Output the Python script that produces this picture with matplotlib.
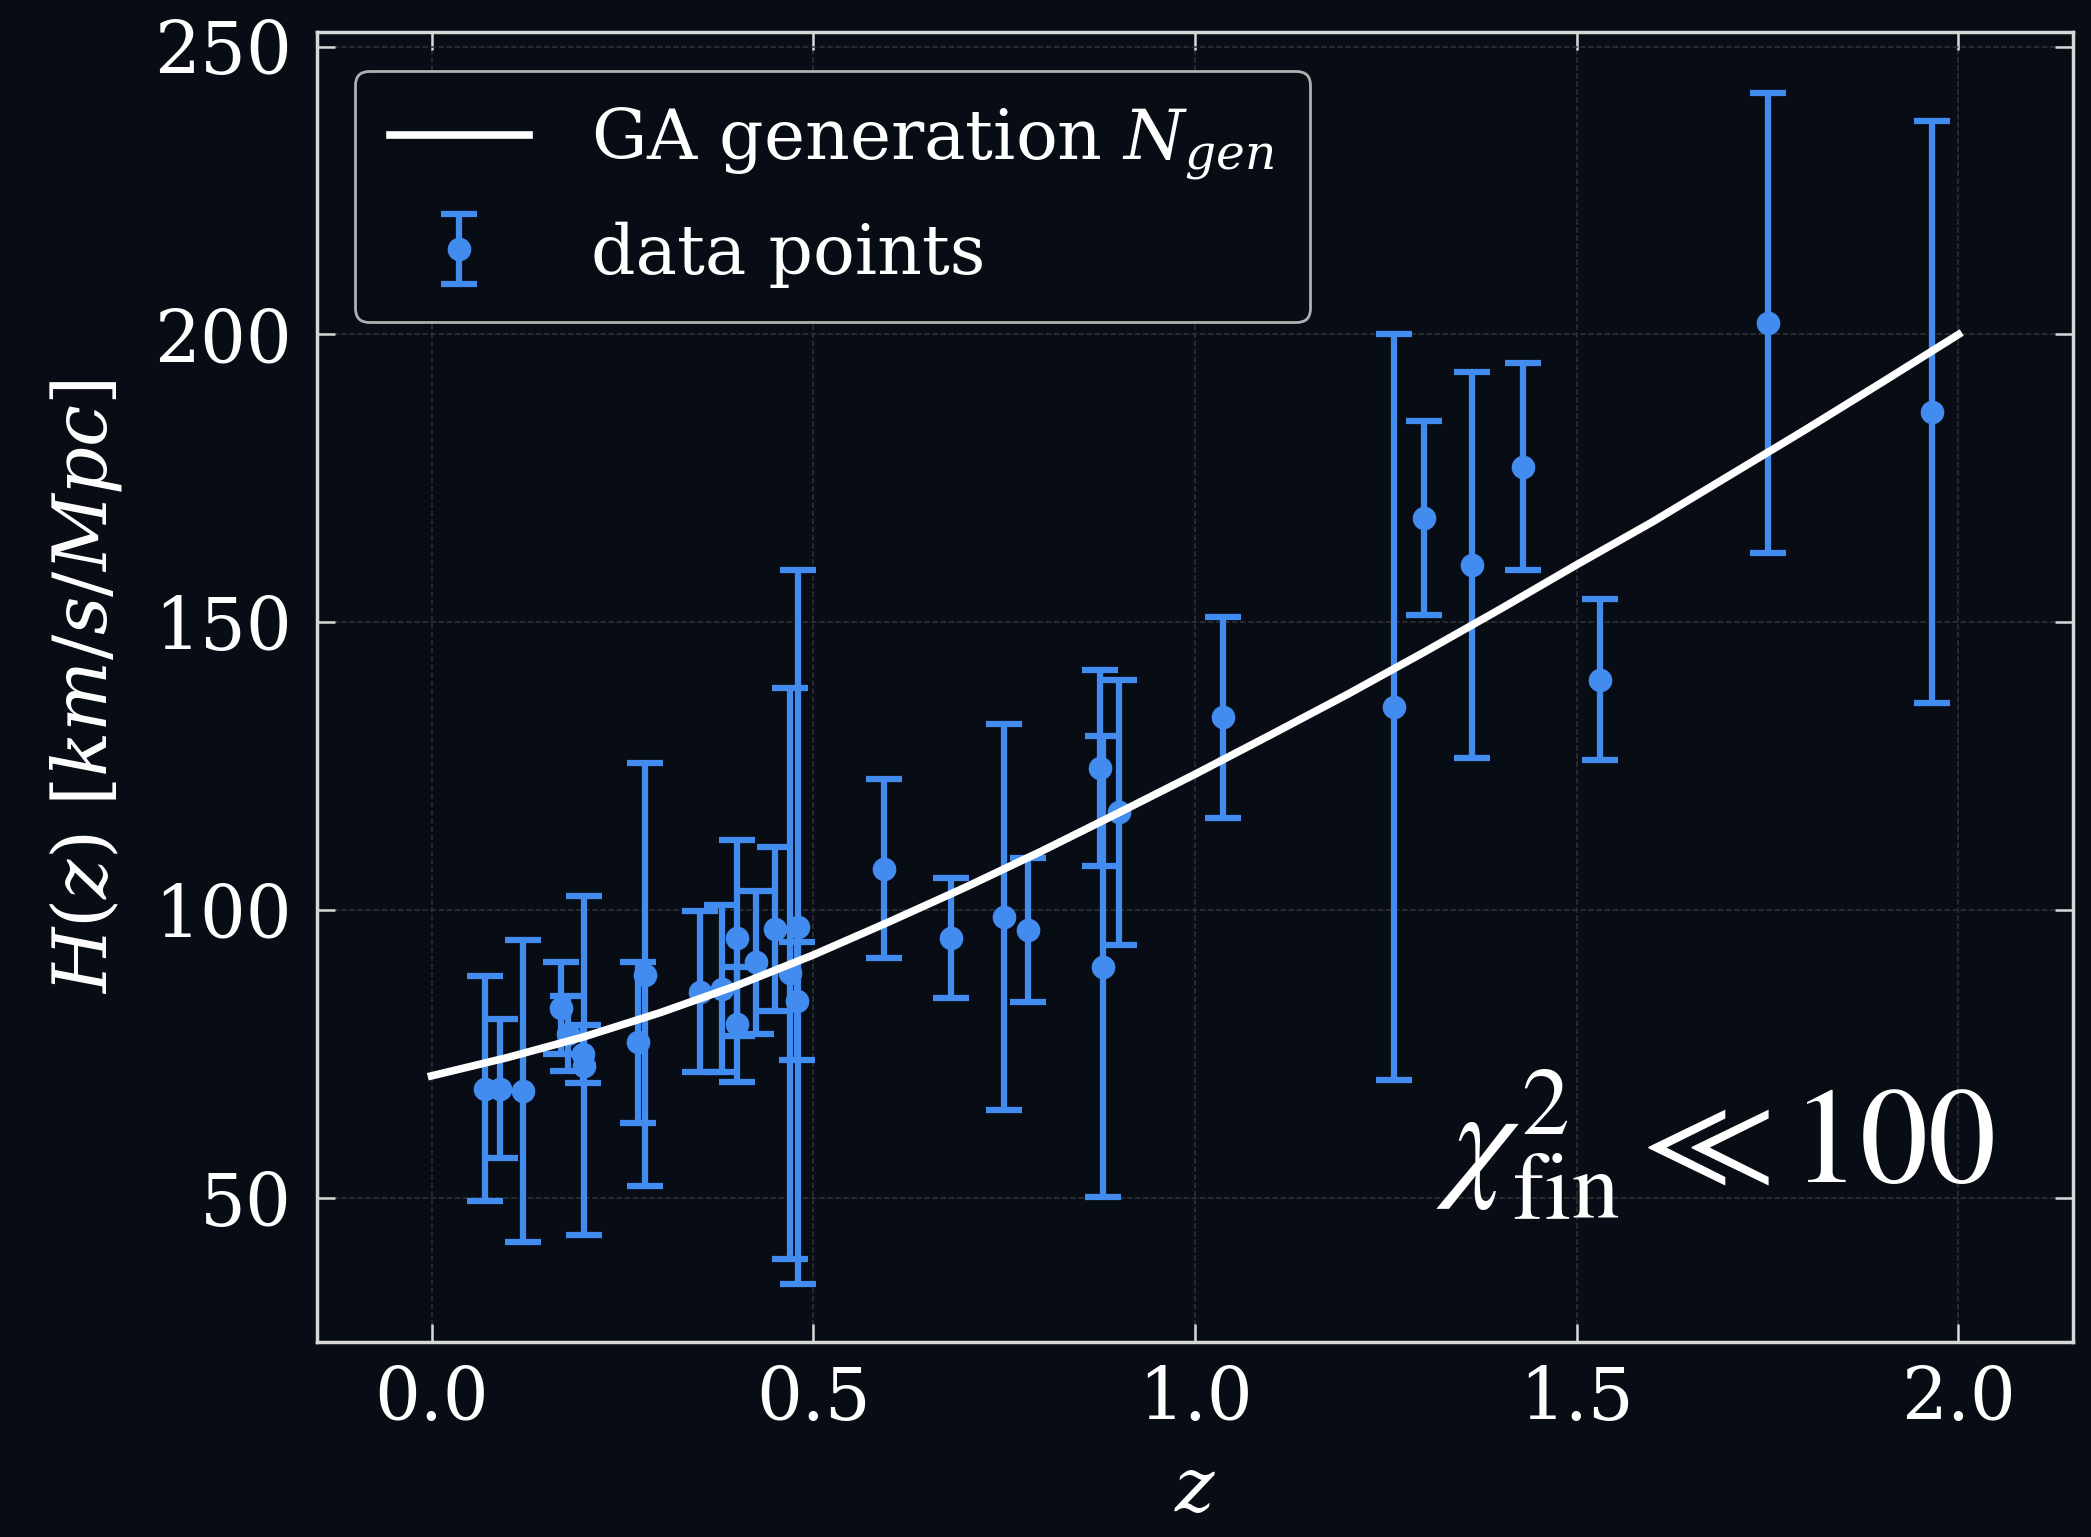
import numpy as np
import matplotlib
matplotlib.use('Agg')
import matplotlib.pyplot as plt

z_data = [0.07, 0.09, 0.12, 0.17, 0.179, 0.199, 0.20, 0.27, 0.28, 0.352,
          0.3802, 0.40, 0.4004, 0.4247, 0.4497, 0.47, 0.4783, 0.48, 0.593, 0.68,
          0.75, 0.781, 0.875, 0.88, 0.90, 1.037, 1.26, 1.30, 1.363, 1.43,
          1.53, 1.75, 1.965]
H_data = [69.0, 69.0, 68.6, 83.0, 78.5, 75.0, 73.0, 77.0, 88.8, 85.8,
          86.3, 95.2, 80.2, 90.9, 96.7, 89.0, 84.2, 97.0, 107.2, 95.2,
          98.8, 96.6, 124.7, 90.2, 117.0, 133.5, 135.2, 168.1, 160.0, 177.0,
          140.0, 202.0, 186.5]
H_err = [19.6, 12.0, 26.2, 8.0, 6.5, 5.0, 29.5, 14.0, 36.7, 14.0,
         14.5, 17.0, 10.0, 12.4, 14.3, 49.6, 10.2, 62.0, 15.5, 10.4,
         33.5, 12.5, 17.0, 40.0, 23.0, 17.5, 64.8, 16.9, 33.5, 18.0,
         14.0, 40.0, 50.5]

# GA reconstruction curve, sampled from the figure
z_curve = [0.0, 0.1, 0.2, 0.3, 0.4, 0.5, 0.6, 0.7, 0.8, 0.9, 1.0,
           1.1, 1.2, 1.3, 1.4, 1.5, 1.6, 1.7, 1.8, 1.9, 2.0]
H_curve = [71.2, 74.4, 78.0, 82.2, 86.9, 92.2, 98.0, 104.0, 110.3, 116.9, 123.6,
           130.5, 137.5, 144.8, 152.3, 160.0, 167.5, 175.5, 183.5, 191.7, 200.0]

x_ticks = [0.0, 0.5, 1.0, 1.5, 2.0]
y_ticks = [50, 100, 150, 200, 250]

BG = '#080c14'
BLUE = '#428cf0'
SPINE = '#d8d8d8'

plt.rcParams['font.family'] = 'DejaVu Serif'
plt.rcParams['mathtext.fontset'] = 'dejavuserif'

fig = plt.figure(figsize=(20.91, 15.37), dpi=100, facecolor=BG)
ax = fig.add_axes([0.1516, 0.127, 0.8398, 0.852])
ax.set_facecolor(BG)

line, = ax.plot(z_curve, H_curve, color='white', lw=5.5, zorder=4,
                label=r'GA generation $N_{gen}$')
eb = ax.errorbar(z_data, H_data, yerr=H_err, fmt='o', color=BLUE, ecolor=BLUE,
                 markersize=16, elinewidth=4.5, capsize=13, capthick=4.5,
                 zorder=3, label='data points')

ax.set_xlim(-0.15, 2.15)
ax.set_ylim(25, 252.5)
ax.set_xticks(x_ticks)
ax.set_yticks(y_ticks)
ax.set_xticklabels([f'{t:.1f}' for t in x_ticks])

ax.grid(True, ls='--', color='#303236', lw=1.1)
ax.set_axisbelow(True)

ax.tick_params(direction='in', top=True, right=True, length=13, width=1.8,
               color=SPINE, labelcolor='white', labelsize=52)
ax.tick_params(axis='x', pad=16)
ax.tick_params(axis='y', pad=18)
for spine in ax.spines.values():
    spine.set_color(SPINE)
    spine.set_linewidth(2.5)

ax.set_xlabel(r'$z$', fontsize=54, color='white', labelpad=14)
ax.set_ylabel(r'$H(z)\ [km/s/Mpc]$', fontsize=54, color='white', labelpad=22)

leg = ax.legend(handles=[line, eb], loc='upper left', fontsize=50,
                facecolor=BG, edgecolor='#b0b0b0', framealpha=1.0,
                handlelength=2.0, borderpad=0.5, labelspacing=0.55,
                handletextpad=0.9, bbox_to_anchor=(0.002, 0.997))
leg.get_frame().set_linewidth(2.0)
for txt in leg.get_texts():
    txt.set_color('white')

ax.text(0.955, 0.15, r'$\chi^2_{\mathrm{fin}} \ll 100$', transform=ax.transAxes,
        ha='right', va='center', fontsize=98, color='white',
        math_fontfamily='stix')

fig.savefig('out.png', dpi=100, facecolor=BG)
